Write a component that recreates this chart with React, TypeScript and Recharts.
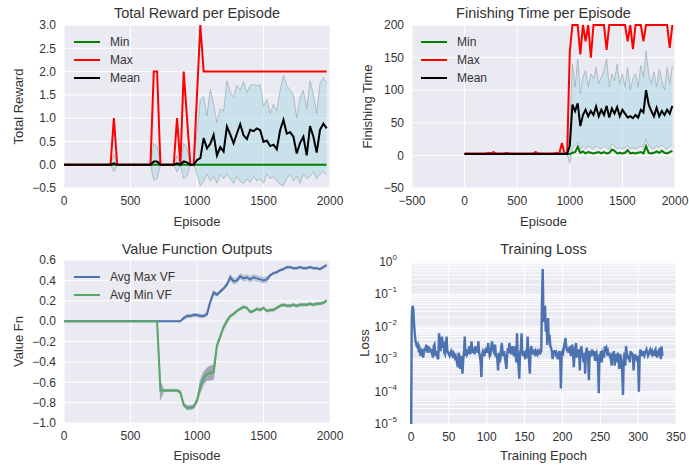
import React from "react";
import {
  ComposedChart,
  LineChart,
  Line,
  Area,
  XAxis,
  YAxis,
  CartesianGrid,
  Label,
} from "recharts";

const FONT = '"Liberation Sans", Arial, sans-serif';
const TEXT = "#333";
const BG = "#EAEAF2";

// episodes are logged every 25 steps (0 .. 1975)
const episodes = Array.from({ length: 80 }, (_, i) => i * 25);

// ---- Total reward per episode ----
const rewardMin = [
  0, 0, 0, 0, 0, 0, 0, 0, 0, 0, 0, 0, 0, 0, 0, 0, 0, 0, 0, 0,
  0, 0, 0, 0, 0, 0, 0, 0, 0, 0, 0, 0, 0, 0, 0, 0, 0, 0, 0, 0,
  0, 0, 0, 0, 0, 0, 0, 0, 0, 0, 0, 0, 0, 0, 0, 0, 0, 0, 0, 0,
  0, 0, 0, 0, 0, 0, 0, 0, 0, 0, 0, 0, 0, 0, 0, 0, 0, 0, 0, 0,
];
const rewardMax = [
  0, 0, 0, 0, 0, 0, 0, 0, 0, 0,
  0, 0, 0, 0, 0, 1, 0, 0, 0, 0,
  0, 0, 0, 0, 0, 0, 0, 2, 2, 0,
  0, 0, 0, 0, 1, 0, 2, 1, 0, 0,
  1.5, 3, 2, 2, 2, 2, 2, 2, 2, 2,
  2, 2, 2, 2, 2, 2, 2, 2, 2, 2,
  2, 2, 2, 2, 2, 2, 2, 2, 2, 2,
  2, 2, 2, 2, 2, 2, 2, 2, 2, 2,
];
const rewardMean = [
  0, 0, 0, 0, 0, 0, 0, 0, 0, 0,
  0, 0, 0, 0, 0, 0.03, 0, 0, 0, 0,
  0, 0, 0, 0, 0, 0, 0, 0.07, 0.07, 0,
  0, 0, 0, 0, 0.03, 0, 0.07, 0.05, 0, 0,
  0.1, 0.14, 0.57, 0.35, 0.45, 0.64, 0.2, 0.38, 0.28, 0.82,
  0.65, 0.46, 0.67, 0.87, 0.63, 0.55, 0.75, 0.72, 0.78, 0.74,
  0.49, 0.52, 0.4, 0.43, 0.33, 0.74, 0.96, 0.67, 0.7, 0.6,
  0.24, 0.47, 0.6, 0.2, 0.83, 0.6, 0.26, 0.75, 0.88, 0.78,
];
const rewardLo = [
  0, 0, 0, 0, 0, 0, 0, 0, 0, 0,
  0, 0, 0, 0, 0, -0.15, 0, 0, 0, 0,
  0, 0, 0, 0, 0, 0, 0, -0.33, -0.3, 0,
  0, 0, 0, 0, -0.15, 0, -0.3, -0.25, 0, 0,
  -0.2, -0.45, -0.35, -0.2, -0.35, -0.25, -0.4, -0.2, -0.3, -0.2,
  -0.3, -0.4, -0.25, -0.35, -0.4, -0.3, -0.38, -0.25, -0.35, -0.3,
  -0.4, -0.2, -0.3, -0.25, -0.35, -0.42, -0.45, -0.3, -0.2, -0.35,
  -0.25, -0.4, -0.2, -0.3, -0.25, -0.15, -0.3, -0.2, -0.15, -0.22,
];
const rewardHi = [
  0, 0, 0, 0, 0, 0, 0, 0, 0, 0,
  0, 0, 0, 0, 0, 0.22, 0, 0, 0, 0,
  0, 0, 0, 0, 0, 0, 0, 0.46, 0.4, 0,
  0, 0, 0, 0, 0.2, 0, 0.46, 0.35, 0, 0,
  0.7, 1.4, 1.46, 1.05, 1.62, 1.3, 0.9, 1.2, 1.15, 1.8,
  1.55, 1.45, 1.7, 1.6, 1.78, 1.55, 1.7, 1.72, 1.7, 1.72,
  1.25, 1.4, 1.1, 1.3, 1.15, 1.6, 1.92, 1.7, 1.6, 1.5,
  1.0, 1.45, 1.6, 1.2, 1.8, 1.5, 1.1, 1.75, 1.87, 1.75,
];

// ---- Finishing time per episode ----
const timeMin = [
  2, 2, 2, 2, 2, 2, 2, 2, 2, 2, 2, 2, 2, 2, 2, 2, 2, 2, 2, 2,
  2, 2, 2, 2, 2, 2, 2, 2, 2, 2, 2, 2, 2, 2, 2, 2, 2, 2, 2, 2,
  2, 4, 5, 13, 4, 6, 3, 5, 4, 3,
  4, 5, 3, 5, 3, 4, 9, 7, 3, 4,
  3, 4, 8, 3, 4, 3, 4, 5, 3, 14,
  4, 3, 4, 6, 4, 7, 4, 3, 5, 7,
];
const timeMax = [
  3, 3, 3, 3, 3, 3, 3, 3, 3, 4,
  3, 5, 3, 3, 3, 3, 4, 3, 3, 3,
  3, 3, 3, 3, 3, 3, 3, 5, 3, 3,
  3, 3, 3, 3, 3, 4, 3, 19, 3, 4,
  160, 200, 200, 200, 155, 200, 175, 200, 150, 200,
  200, 200, 200, 200, 162, 200, 200, 200, 200, 200,
  200, 200, 175, 200, 163, 200, 200, 200, 175, 200,
  200, 200, 200, 200, 200, 200, 200, 200, 165, 200,
];
const timeMean = [
  2, 2, 2, 2, 2, 2, 2, 2, 2, 2, 2, 2, 2, 2, 2, 2, 2, 2, 2, 2,
  2, 2, 2, 2, 2, 2, 2, 2, 2, 2, 2, 2, 2, 2, 2, 2, 2, 2.5, 2, 2.5,
  15, 78, 68, 80, 45, 62, 70, 60, 68, 62,
  75, 60, 70, 62, 76, 58, 72, 64, 74, 60,
  70, 64, 58, 60, 57, 62, 58, 70, 66, 100,
  78, 68, 60, 73, 60, 68, 62, 70, 64, 76,
];
const timeLo = [
  1, 1, 1, 1, 1, 1, 1, 1, 1, 1, 1, 1, 1, 1, 1, 1, 1, 1, 1, 1,
  1, 1, 1, 1, 1, 1, 1, 1, 1, 1, 1, 1, 1, 1, 1, 1, 1, 1, 1, 1,
  -12, 12, 15, 20, 10, 14, 10, 15, 12, 10,
  14, 12, 10, 15, 12, 10, 18, 14, 10, 12,
  10, 12, 15, 10, 12, 10, 12, 14, 12, 25,
  15, 12, 10, 14, 12, 16, 12, 10, 14, 16,
];
const timeHi = [
  3.5, 3.5, 3.5, 3.5, 3.5, 3.5, 3.5, 3.5, 3.5, 3.5, 3.5, 3.5, 3.5, 3.5, 3.5, 3.5, 3.5, 3.5, 3.5, 3.5,
  3.5, 3.5, 3.5, 3.5, 3.5, 3.5, 3.5, 3.5, 3.5, 3.5, 3.5, 3.5, 3.5, 3.5, 3.5, 3.5, 3.5, 5, 4, 5,
  45, 140, 105, 148, 95, 120, 130, 105, 125, 118,
  135, 110, 120, 130, 148, 105, 125, 115, 140, 110,
  125, 105, 135, 100, 118, 125, 105, 138, 120, 160,
  125, 110, 128, 105, 132, 115, 100, 135, 110, 138,
];

// ---- Value function outputs ----
const vfMax = [
  0, 0, 0, 0, 0, 0, 0, 0, 0, 0, 0, 0, 0, 0, 0, 0, 0, 0, 0, 0,
  0, 0, 0, 0, 0, 0, 0, 0, 0, 0, 0, 0, 0, 0, 0, 0, 0.03, 0.05, 0.05, 0.06,
  0.06, 0.05, 0.05, 0.07, 0.19, 0.28, 0.26, 0.29, 0.32, 0.36,
  0.43, 0.39, 0.4, 0.44, 0.42, 0.43, 0.41, 0.43, 0.42, 0.41,
  0.4, 0.41, 0.45, 0.47, 0.48, 0.5, 0.51, 0.53, 0.53, 0.52,
  0.52, 0.53, 0.52, 0.52, 0.53, 0.52, 0.52, 0.51, 0.53, 0.55,
];
const vfMin = [
  0, 0, 0, 0, 0, 0, 0, 0, 0, 0, 0, 0, 0, 0, 0, 0, 0, 0, 0, 0,
  0, 0, 0, 0, 0, 0, 0, 0, 0, -0.68,
  -0.68, -0.68, -0.68, -0.68, -0.68, -0.7, -0.82, -0.85, -0.85, -0.84,
  -0.78, -0.64, -0.56, -0.52, -0.51, -0.5, -0.24, -0.15, -0.06, 0.0,
  0.05, 0.07, 0.1, 0.12, 0.14, 0.13, 0.09, 0.1, 0.12, 0.11,
  0.13, 0.1, 0.11, 0.11, 0.13, 0.15, 0.16, 0.15, 0.15, 0.16,
  0.15, 0.16, 0.16, 0.16, 0.17, 0.16, 0.17, 0.17, 0.18, 0.2,
];
const vfMaxSpread = [
  0, 0, 0, 0, 0, 0, 0, 0, 0, 0, 0, 0, 0, 0, 0, 0, 0, 0, 0, 0,
  0, 0, 0, 0, 0, 0, 0, 0, 0, 0, 0, 0, 0, 0, 0, 0, 0.015, 0.015, 0.015, 0.015,
  0.015, 0.015, 0.015, 0.02, 0.02, 0.02, 0.015, 0.015, 0.015, 0.015,
  0.025, 0.025, 0.025, 0.025, 0.025, 0.025, 0.025, 0.025, 0.025, 0.025,
  0.025, 0.025, 0.01, 0.01, 0.01, 0.01, 0.01, 0.01, 0.01, 0.01,
  0.01, 0.01, 0.01, 0.01, 0.01, 0.01, 0.01, 0.01, 0.01, 0.01,
];
const vfMinSpread = [
  0, 0, 0, 0, 0, 0, 0, 0, 0, 0, 0, 0, 0, 0, 0, 0, 0, 0, 0, 0,
  0, 0, 0, 0, 0, 0, 0, 0, 0, 0.09,
  0.01, 0.01, 0.01, 0.01, 0.01, 0.02, 0.02, 0.02, 0.02, 0.02,
  0.02, 0.06, 0.06, 0.06, 0.07, 0.07, 0.02, 0.02, 0.02, 0.02,
  0.012, 0.012, 0.012, 0.012, 0.012, 0.012, 0.012, 0.012, 0.012, 0.012,
  0.012, 0.012, 0.012, 0.012, 0.012, 0.012, 0.012, 0.012, 0.012, 0.012,
  0.012, 0.012, 0.012, 0.012, 0.012, 0.012, 0.012, 0.012, 0.012, 0.012,
];

// ---- Training loss (log10 of loss, one value per epoch 0..332) ----
const lossLog10 = [
  -6, -1.7, -1.35, -1.45, -1.9, -2.2, -2.45, -2.55, -2.6, -2.55,
  -2.7, -2.65, -2.8, -2.75, -2.9, -2.7, -2.95, -2.8, -2.65, -2.75,
  -2.55, -2.7, -2.8, -2.6, -2.75, -2.65, -2.8, -2.7, -2.85, -2.95,
  -2.6, -2.55, -2.8, -2.9, -2.75, -2.95, -3.0, -2.2, -2.45, -2.75,
  -2.5, -2.3, -2.65, -2.45, -2.8, -2.85, -2.6, -2.3, -2.75, -2.8,
  -2.85, -2.9, -2.8, -2.75, -2.85, -2.9, -2.8, -2.85, -2.95, -2.9,
  -3.0, -3.15, -3.25, -2.8, -2.95, -3.3, -2.9, -3.1, -3.45, -3.0,
  -2.8, -2.3, -2.9, -2.7, -2.85, -2.8, -2.75, -2.6, -2.85, -2.7,
  -2.45, -2.8, -2.65, -2.75, -2.85, -2.6, -2.75, -2.65, -2.8, -2.45,
  -2.8, -2.9, -3.1, -3.55, -2.85, -2.75, -2.8, -2.9, -2.75, -2.65,
  -2.8, -2.7, -2.5, -2.75, -2.9, -2.85, -2.65, -2.45, -2.6, -2.75,
  -2.8, -2.55, -2.85, -2.9, -3.0, -3.35, -2.8, -3.1, -3.0, -2.7,
  -2.5, -2.8, -2.9, -2.75, -2.95, -3.1, -3.3, -2.85, -2.65, -2.8,
  -2.5, -2.7, -2.85, -2.75, -2.6, -2.8, -2.9, -2.6, -2.75, -3.1,
  -2.2, -3.0, -3.2, -3.6, -2.8, -2.7, -2.2, -2.8, -2.9, -2.75,
  -2.85, -3.0, -2.7, -2.95, -2.3, -2.8, -3.1, -3.45, -2.7, -2.6,
  -2.75, -2.85, -2.7, -2.8, -2.9, -2.75, -2.8, -2.85, -2.75, -2.8,
  -2.75, -2.8, -2.75, -1.2, -0.22, -1.85, -1.65, -1.35, -2.15, -1.84,
  -2.56, -1.73, -2.46, -2.25, -2.6, -2.65, -2.75, -3.0, -2.8, -2.75,
  -2.75, -2.85, -2.8, -2.9, -3.0, -2.85, -2.75, -2.9, -3.9, -2.8,
  -2.75, -2.8, -2.6, -2.5, -2.35, -2.6, -2.75, -2.65, -2.8, -2.7,
  -2.6, -2.9, -2.75, -2.55, -2.8, -3.25, -2.85, -2.65, -2.5, -2.95,
  -2.85, -2.7, -2.8, -3.35, -2.75, -2.6, -2.85, -2.9, -3.1, -2.8,
  -3.45, -2.85, -2.65, -2.75, -3.0, -3.65, -2.75, -2.9, -2.85, -2.7,
  -2.8, -2.9, -2.75, -3.05, -2.85, -2.8, -3.0, -3.1, -4.05, -2.85,
  -2.9, -2.75, -3.1, -2.8, -2.85, -2.95, -2.6, -2.7, -2.65, -2.8,
  -2.75, -2.9, -2.8, -2.95, -3.0, -3.2, -2.8, -2.9, -2.75, -3.2,
  -2.85, -2.9, -3.1, -2.8, -2.95, -3.3, -2.85, -2.9, -3.15, -3.4,
  -4.1, -3.0, -2.8, -3.2, -2.6, -2.8, -2.9, -3.0, -2.9, -3.1,
  -2.75, -2.9, -2.8, -2.9, -3.35, -3.0, -2.85, -2.95, -3.0, -2.9,
  -3.1, -4.0, -2.95, -2.7, -2.8, -2.9, -2.75, -2.85, -2.9, -2.8,
  -2.75, -2.7, -2.8, -2.9, -2.85, -2.75, -2.7, -2.8, -2.85, -2.75,
  -2.8, -2.9, -2.75, -2.7, -2.85, -2.95, -2.8, -2.75, -2.9, -2.65,
  -3.0, -2.6, -2.9,
];

const episodeTicks = [0, 500, 1000, 1500, 2000];
const timeEpisodeTicks = [-500, 0, 500, 1000, 1500, 2000];
const rewardTicks = [-0.5, 0, 0.5, 1, 1.5, 2, 2.5, 3];
const timeTicks = [-50, 0, 50, 100, 150, 200];
const vfTicks = [-1, -0.8, -0.6, -0.4, -0.2, 0, 0.2, 0.4, 0.6];
const epochTicks = [0, 50, 100, 150, 200, 250, 300, 350];
const lossDecades = [-5, -4, -3, -2, -1, 0];
const minorSteps = [2, 3, 4, 5, 6, 7, 8, 9];

const lossTicks: number[] = [];
lossDecades.forEach((d) => {
  lossTicks.push(Math.pow(10, d));
  if (d < 0) minorSteps.forEach((m) => lossTicks.push(m * Math.pow(10, d)));
});

const rewardRows = episodes.map((ep, i) => ({
  ep,
  min: rewardMin[i],
  max: rewardMax[i],
  mean: rewardMean[i],
  band: [rewardLo[i], rewardHi[i]],
}));
const timeRows = episodes.map((ep, i) => ({
  ep,
  min: timeMin[i],
  max: timeMax[i],
  mean: timeMean[i],
  band: [timeLo[i], timeHi[i]],
}));
const vfRows = episodes.map((ep, i) => ({
  ep,
  vmax: vfMax[i],
  vmin: vfMin[i],
  maxBand: [vfMax[i] - vfMaxSpread[i], vfMax[i] + vfMaxSpread[i]],
  minBand: [vfMin[i] - vfMinSpread[i], vfMin[i] + vfMinSpread[i]],
}));
const lossRows = lossLog10.map((v, i) => ({ epoch: i, loss: Math.pow(10, v) }));

const tickStyle = { fill: TEXT, fontSize: 12, fontFamily: FONT };
const labelStyle = { fill: TEXT, fontSize: 13, fontFamily: FONT };
const minus = (s: string) => s.replace("-", "\u2212");
const fmt1 = (v: number) => minus(v.toFixed(1));
const fmt0 = (v: number) => minus(String(v));

function LogTick(props: any) {
  const { x, y, payload } = props;
  const lg = Math.log10(payload.value);
  const e = Math.round(lg);
  if (Math.abs(lg - e) > 1e-6) return <g />;
  return (
    <text x={x - 6} y={y} dy={4} textAnchor="end" fill={TEXT} fontSize={12} fontFamily={FONT}>
      10
      <tspan dy={-6} fontSize={8}>
        {e === 0 ? "0" : minus(String(e))}
      </tspan>
    </text>
  );
}

function Title({ left, width, top, text }: { left: number; width: number; top: number; text: string }) {
  return (
    <div
      style={{
        position: "absolute",
        left,
        width,
        top: top - 8,
        height: 16,
        lineHeight: "16px",
        textAlign: "center",
        fontFamily: FONT,
        fontSize: 14.5,
        color: TEXT,
        whiteSpace: "nowrap",
      }}
    >
      {text}
    </div>
  );
}

function LegendBox({ left, top, items }: { left: number; top: number; items: { label: string; color: string }[] }) {
  return (
    <div style={{ position: "absolute", left, top: top - 9, fontFamily: FONT, fontSize: 12, color: TEXT }}>
      {items.map((it) => (
        <div key={it.label} style={{ display: "flex", alignItems: "center", height: 18 }}>
          <span style={{ display: "inline-block", width: 26, height: 2, background: it.color, marginRight: 10 }} />
          <span>{it.label}</span>
        </div>
      ))}
    </div>
  );
}

const bandProps = {
  stroke: "#98a2ad",
  strokeWidth: 0.8,
  strokeOpacity: 0.8,
  fill: "#add8e6",
  fillOpacity: 0.55,
  dot: false,
  activeDot: false,
  isAnimationActive: false,
};

export default function App() {
  return (
    <div style={{ position: "absolute", left: 0, top: 0, width: 689, height: 468, background: "#fff" }}>
      {/* Total reward */}
      <div style={{ position: "absolute", left: 0, top: 0 }}>
        <ComposedChart width={345} height={234} data={rewardRows} margin={{ top: 25, right: 15, bottom: 0, left: 0 }}>
          <CartesianGrid fill={BG} stroke="#fff" strokeWidth={1} />
          <XAxis dataKey="ep" type="number" domain={[0, 2000]} ticks={episodeTicks} interval={0} height={46} axisLine={false} tickLine={false} tick={tickStyle}>
            <Label value="Episode" position="insideBottom" offset={8} style={labelStyle} />
          </XAxis>
          <YAxis type="number" domain={[-0.5, 3]} ticks={rewardTicks} interval={0} width={64} axisLine={false} tickLine={false} tick={tickStyle} tickFormatter={fmt1}>
            <Label value="Total Reward" angle={-90} position="insideLeft" offset={18} style={{ ...labelStyle, textAnchor: "middle" }} />
          </YAxis>
          <Area dataKey="band" {...bandProps} />
          <Line dataKey="min" stroke="#008000" strokeWidth={2} dot={false} isAnimationActive={false} />
          <Line dataKey="max" stroke="#ff0000" strokeWidth={2} dot={false} isAnimationActive={false} />
          <Line dataKey="mean" stroke="#000000" strokeWidth={2} dot={false} isAnimationActive={false} />
        </ComposedChart>
      </div>
      <Title left={64} width={266} top={13} text="Total Reward per Episode" />
      <LegendBox
        left={74}
        top={42}
        items={[
          { label: "Min", color: "#008000" },
          { label: "Max", color: "#ff0000" },
          { label: "Mean", color: "#000000" },
        ]}
      />

      {/* Finishing time */}
      <div style={{ position: "absolute", left: 344, top: 0 }}>
        <ComposedChart width={345} height={234} data={timeRows} margin={{ top: 25, right: 14, bottom: 0, left: 0 }}>
          <CartesianGrid fill={BG} stroke="#fff" strokeWidth={1} />
          <XAxis dataKey="ep" type="number" domain={[-500, 2000]} ticks={timeEpisodeTicks} interval={0} height={46} axisLine={false} tickLine={false} tick={tickStyle} tickFormatter={fmt0}>
            <Label value="Episode" position="insideBottom" offset={8} style={labelStyle} />
          </XAxis>
          <YAxis type="number" domain={[-50, 200]} ticks={timeTicks} interval={0} width={68} axisLine={false} tickLine={false} tick={tickStyle} tickFormatter={fmt0}>
            <Label value="Finishing Time" angle={-90} position="insideLeft" offset={23} style={{ ...labelStyle, textAnchor: "middle" }} />
          </YAxis>
          <Area dataKey="band" {...bandProps} />
          <Line dataKey="min" stroke="#008000" strokeWidth={2} dot={false} isAnimationActive={false} />
          <Line dataKey="max" stroke="#ff0000" strokeWidth={2} dot={false} isAnimationActive={false} />
          <Line dataKey="mean" stroke="#000000" strokeWidth={2} dot={false} isAnimationActive={false} />
        </ComposedChart>
      </div>
      <Title left={412} width={263} top={13} text="Finishing Time per Episode" />
      <LegendBox
        left={421}
        top={42}
        items={[
          { label: "Min", color: "#008000" },
          { label: "Max", color: "#ff0000" },
          { label: "Mean", color: "#000000" },
        ]}
      />

      {/* Value function */}
      <div style={{ position: "absolute", left: 0, top: 234 }}>
        <ComposedChart width={345} height={234} data={vfRows} margin={{ top: 26, right: 15, bottom: 0, left: 0 }}>
          <CartesianGrid fill={BG} stroke="#fff" strokeWidth={1} />
          <XAxis dataKey="ep" type="number" domain={[0, 2000]} ticks={episodeTicks} interval={0} height={45} axisLine={false} tickLine={false} tick={tickStyle}>
            <Label value="Episode" position="insideBottom" offset={8} style={labelStyle} />
          </XAxis>
          <YAxis type="number" domain={[-1, 0.6]} ticks={vfTicks} interval={0} width={64} axisLine={false} tickLine={false} tick={tickStyle} tickFormatter={fmt1}>
            <Label value="Value Fn" angle={-90} position="insideLeft" offset={18} style={{ ...labelStyle, textAnchor: "middle" }} />
          </YAxis>
          <Area dataKey="maxBand" {...bandProps} fill="#9cc3dc" fillOpacity={0.6} />
          <Area dataKey="minBand" {...bandProps} fill="#7f8a9a" fillOpacity={0.7} />
          <Line dataKey="vmax" stroke="#4C72B0" strokeWidth={2} dot={false} isAnimationActive={false} />
          <Line dataKey="vmin" stroke="#55A868" strokeWidth={2} dot={false} isAnimationActive={false} />
        </ComposedChart>
      </div>
      <Title left={64} width={266} top={249} text="Value Function Outputs" />
      <LegendBox
        left={74}
        top={277}
        items={[
          { label: "Avg Max VF", color: "#4C72B0" },
          { label: "Avg Min VF", color: "#55A868" },
        ]}
      />

      {/* Training loss */}
      <div style={{ position: "absolute", left: 344, top: 234 }}>
        <LineChart width={345} height={234} data={lossRows} margin={{ top: 28, right: 13, bottom: 0, left: 0 }}>
          <CartesianGrid fill={BG} stroke="#fff" strokeWidth={1} />
          <XAxis dataKey="epoch" type="number" domain={[0, 350]} ticks={epochTicks} interval={0} height={44} axisLine={false} tickLine={false} tick={tickStyle}>
            <Label value="Training Epoch" position="insideBottom" offset={8} style={labelStyle} />
          </XAxis>
          <YAxis type="number" scale="log" domain={[1e-5, 1]} allowDataOverflow ticks={lossTicks} interval={0} width={67} axisLine={false} tickLine={false} tick={<LogTick />}>
            <Label value="Loss" angle={-90} position="insideLeft" offset={20} style={{ ...labelStyle, textAnchor: "middle" }} />
          </YAxis>
          <Line dataKey="loss" stroke="#4C72B0" strokeWidth={2.4} dot={false} isAnimationActive={false} />
        </LineChart>
      </div>
      <Title left={411} width={265} top={249} text="Training Loss" />
    </div>
  );
}
